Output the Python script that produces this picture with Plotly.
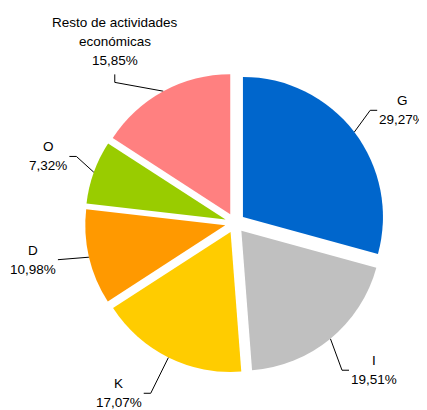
import math
import plotly.graph_objects as go

# ---- data ----
labels = ["G", "I", "K", "D", "O", "Resto de actividades<br>económicas"]
values = [29.27, 19.51, 17.07, 10.98, 7.32, 15.85]
colors = ["#0066CC", "#C0C0C0", "#FFCC00", "#FF9900", "#99CC00", "#FF8080"]

# ---- label layout (style) ----
label_dist = [176, 182, 190, 174, 172, 185]      # elbow distance from pie centre (px)
label_turn = [-2.5, 3.5, 0.0, 1.0, 3.0, -12.0]     # elbow angle nudge (deg)
label_side = ["right", "right", "left", "left", "left", "top"]

# ---- geometry (screen pixels) ----
W, H = 427, 410
OFF = 8                  # page body margin
CX, CY = 235, 223        # pie centre on screen
R = 140                  # radius
PULL_PX = 10
pull = PULL_PX / R
half = R * (1 + pull)
FW, FH = W - OFF, H - OFF
FS = 13.5                # font size
LS = 19                  # line spacing
SEG = 7

dom_x = [(CX - OFF - half) / FW, (CX - OFF + half) / FW]
dom_y = [(H - (CY + half)) / FH, (H - (CY - half)) / FH]

font = dict(family="Liberation Sans, Arial, sans-serif", size=FS, color="#000000")

CHAR_W = {"%": 0.889, ",": 0.278}


def text_w(s):
    return FS * sum(CHAR_W.get(c, 0.556) for c in s)


fig = go.Figure()
fig.add_trace(go.Pie(
    labels=labels,
    values=values,
    sort=False,
    direction="clockwise",
    rotation=0,
    marker=dict(colors=colors, line=dict(width=0)),
    pull=[pull] * len(values),
    textinfo="none",
    domain=dict(x=dom_x, y=dom_y),
    showlegend=False,
    hoverinfo="label+percent",
))

total = sum(values)
lx, ly = [], []
annotations = []
cum = 0.0
for lab, v, d, turn, side in zip(labels, values, label_dist, label_turn, label_side):
    mid = (cum + v / 2) / total * 360.0
    cum += v
    t = math.radians(mid)
    pcx = CX + PULL_PX * math.sin(t)
    pcy = CY - PULL_PX * math.cos(t)
    sx = pcx + R * math.sin(t)
    sy = pcy - R * math.cos(t)
    te = math.radians(mid + turn)
    ex = CX + d * math.sin(te)
    ey = CY - d * math.cos(te)
    pct = f"{v / total * 100:.2f}".replace(".", ",") + "%"
    lines = lab.split("<br>") + [pct]
    w = text_w(pct)
    if side == "right":
        fx, fy = ex + SEG, ey
        bx = fx + 2 + w / 2
        y0 = fy - LS * (len(lines) - 1) / 2
    elif side == "left":
        fx, fy = ex - SEG, ey
        bx = fx - 2 - w / 2
        y0 = fy - LS * (len(lines) - 1) / 2
    else:
        fx, fy = ex, ey - SEG - 1
        bx = fx
        y0 = fy - 14 - LS * (len(lines) - 1)
    lx += [sx, ex, fx, None]
    ly += [sy, ey, fy, None]
    for i, ln in enumerate(lines):
        annotations.append(dict(
            x=bx, y=y0 + i * LS, text=ln, showarrow=False,
            xanchor="center", yanchor="middle", xref="x", yref="y",
            font=font, borderpad=0,
        ))

fig.add_trace(go.Scatter(
    x=lx, y=ly, mode="lines",
    line=dict(color="#000000", width=1),
    hoverinfo="skip", showlegend=False,
))

fig.update_layout(
    width=FW, height=FH,
    margin=dict(l=0, r=0, t=0, b=0),
    paper_bgcolor="white",
    plot_bgcolor="rgba(0,0,0,0)",
    xaxis=dict(range=[OFF, W], visible=False, fixedrange=True, domain=[0, 1]),
    yaxis=dict(range=[H, OFF], visible=False, fixedrange=True, domain=[0, 1]),
    annotations=annotations,
    separators=",.",
)
fig.write_html("out.html")
